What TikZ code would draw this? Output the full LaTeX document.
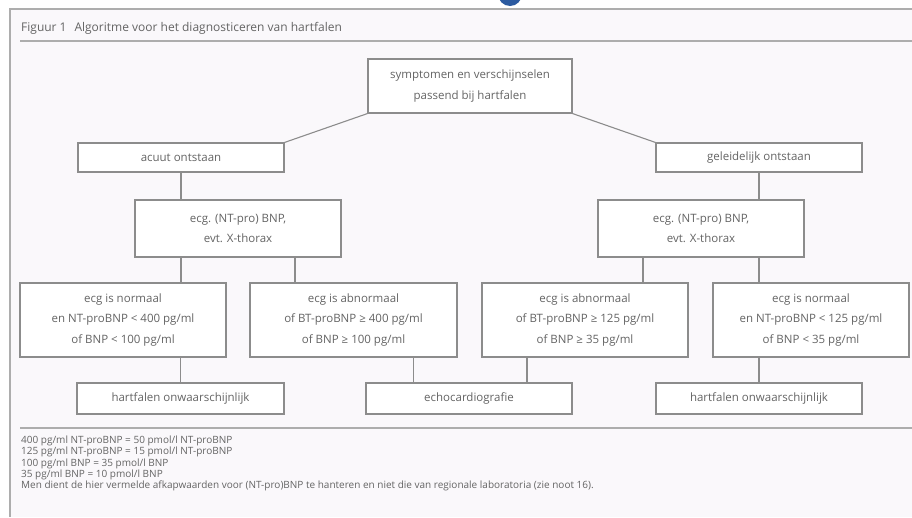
\documentclass[tikz,border=0pt]{standalone}
\usepackage{fontspec}
\setmainfont{Open Sans}
\definecolor{bgc}{HTML}{FAF8FB}
\definecolor{txt}{HTML}{646464}
\definecolor{boxc}{HTML}{8C8C8C}
\definecolor{framec}{HTML}{ADADAD}
\definecolor{blueb}{HTML}{2B5AA0}
\tikzset{
  box/.style={draw=boxc, line width=1.1pt, fill=white, text=txt, align=center,
    inner sep=0pt, font=\fontsize{11.5}{20.5}\selectfont},
  conn/.style={draw=boxc, line width=1.1pt},
  frameline/.style={draw=framec, line width=2.2pt}
}
\begin{document}
\begin{tikzpicture}[x=1pt,y=-1pt]
\useasboundingbox (0,0) rectangle (912,517);
\fill[white] (0,0) rectangle (912,517);
\begin{scope}
\clip (0,0) rectangle (912,9);
\fill[blueb] (510,-6) circle (12);
\end{scope}
\fill[bgc] (10,9) rectangle (912,517);
\draw[frameline] (912,9) -- (10,9) -- (10,517);
\draw[frameline, line width=1.8pt] (20,41) -- (912,41);
\draw[frameline, line width=1.8pt] (20,428) -- (912,428);
\node[anchor=west, text=txt, font=\fontsize{12}{13}\selectfont, inner sep=0pt] (title) at (21,28) {Figuur 1\hspace{0.4em} Algoritme voor het diagnosticeren van hartfalen};

\node[box, minimum width=204, minimum height=54] (top) at (470,86) {symptomen en verschijnselen\\passend bij hartfalen};
\node[box, minimum width=206, minimum height=29] (acuut) at (181,157.5) {acuut ontstaan};
\node[box, minimum width=206, minimum height=29] (gel) at (759,157.5) {geleidelijk ontstaan};
\node[box, minimum width=206, minimum height=57] (ecgL) at (238,228.5) {ecg. (NT-pro) BNP,\\evt. X-thorax};
\node[box, minimum width=206, minimum height=57] (ecgR) at (701,228.5) {ecg. (NT-pro) BNP,\\evt. X-thorax};
\node[box, minimum width=206, minimum height=74] (r3a) at (123,320) {ecg is normaal\\en NT-proBNP < 400 pg/ml\\of BNP < 100 pg/ml};
\node[box, minimum width=207, minimum height=74] (r3b) at (353.5,320) {ecg is abnormaal\\of BT-proBNP ≥ 400 pg/ml\\of BNP ≥ 100 pg/ml};
\node[box, minimum width=206, minimum height=74] (r3c) at (585,320) {ecg is abnormaal\\of BT-proBNP ≥ 125 pg/ml\\of BNP ≥ 35 pg/ml};
\node[box, minimum width=196, minimum height=74] (r3d) at (811,320) {ecg is normaal\\en NT-proBNP < 125 pg/ml\\of BNP < 35 pg/ml};
\node[box, minimum width=207, minimum height=31] (r4a) at (180.5,398.5) {hartfalen onwaarschijnlijk};
\node[box, minimum width=206, minimum height=31] (echo) at (469,398.5) {echocardiografie};
\node[box, minimum width=206, minimum height=31] (r4c) at (759,398.5) {hartfalen onwaarschijnlijk};

\draw[conn] (top.south west) -- (acuut.north east);
\draw[conn] (top.south east) -- (gel.north west);
\draw[conn] (acuut.south) -- (acuut.south |- ecgL.north);
\draw[conn] (gel.south) -- (gel.south |- ecgR.north);
\draw[conn] (acuut.south |- ecgL.south) -- (acuut.south |- r3a.north);
\draw[conn] ([xshift=57]ecgL.south) coordinate (lb) -- (lb |- r3b.north);
\draw[conn] ([xshift=-58]ecgR.south) coordinate (rc) -- (rc |- r3c.north);
\draw[conn] (gel.south |- ecgR.south) -- (gel.south |- r3d.north);
\draw[conn] (r4a.north |- r3a.south) -- (r4a.north);
\draw[conn] ([xshift=60]r3b.south) coordinate (b3) -- (b3 |- echo.north);
\draw[conn] ([xshift=-58]r3c.south) coordinate (c3) -- (c3 |- echo.north);
\draw[conn] (r4c.north |- r3d.south) -- (r4c.north);

\node[anchor=north west, text=txt, align=left, inner sep=0pt, font=\fontsize{10}{11.4}\selectfont] (notes) at (21,435.5) {400 pg/ml NT-proBNP = 50 pmol/l NT-proBNP\\125 pg/ml NT-proBNP = 15 pmol/l NT-proBNP\\100 pg/ml BNP = 35 pmol/l BNP\\35 pg/ml BNP = 10 pmol/l BNP\\Men dient de hier vermelde afkapwaarden voor (NT-pro)BNP te hanteren en niet die van regionale laboratoria (zie noot 16).};
\end{tikzpicture}
\end{document}
